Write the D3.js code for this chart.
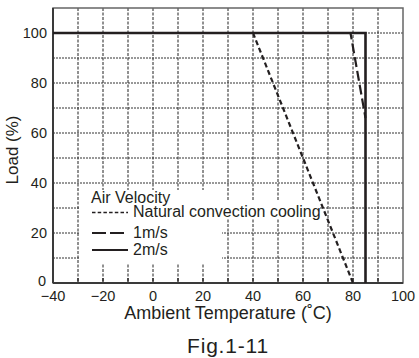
<!DOCTYPE html>
<html><head><meta charset="utf-8">
<script src="https://cdn.jsdelivr.net/npm/d3@7"></script>
<style>body{margin:0;background:#fff}svg{display:block}text{font-family:"Liberation Sans",Arial,sans-serif;fill:#231f20}</style>
</head><body><svg id="c" width="419" height="358"></svg>
<script>
const xTicks = [-40,-20,0,20,40,60,80,100];
const yTicks = [0,20,40,60,80,100];
const xGrid = [-30,-20,-10,0,10,20,30,40,50,60,70,80,90];
const yGrid = [10,20,30,40,50,60,70,80,90,100];
const naturalX = [-40,40,80];
const naturalY = [100,100,0];
const ms1X = [-40,79,85];
const ms1Y = [100,100,66];
const ms2X = [-40,85,85];
const ms2Y = [100,100,0];
const legendLabels = ["Natural convection cooling","1m/s","2m/s"];

const svg = d3.select("#c");
const x = d3.scaleLinear().domain([-40,100]).range([53,403]);
const y = d3.scaleLinear().domain([0,110]).range([283,8]);
const ink = "#231f20";

// grid
svg.append("g").selectAll("line").data(xGrid).join("line")
  .attr("x1",d=>x(d)).attr("x2",d=>x(d)).attr("y1",y(110)).attr("y2",y(0))
  .attr("stroke","#222").attr("stroke-width",1).attr("stroke-dasharray","3,1.5");
svg.append("g").selectAll("line").data(yGrid).join("line")
  .attr("y1",d=>y(d)).attr("y2",d=>y(d)).attr("x1",x(-40)).attr("x2",x(100))
  .attr("stroke","#333").attr("stroke-width",1).attr("stroke-dasharray","2,1");

// bottom inner ticks
svg.append("g").selectAll("line").data(xGrid).join("line")
  .attr("x1",d=>x(d)).attr("x2",d=>x(d)).attr("y1",y(0)).attr("y2",y(0)-5)
  .attr("stroke",ink).attr("stroke-width",1.3);

// legend white areas
svg.append("rect").attr("x",79).attr("y",190).attr("width",143).attr("height",73).attr("fill","#fff");
svg.append("rect").attr("x",222).attr("y",201).attr("width",98).attr("height",17).attr("fill","#fff");

// frame
svg.append("rect").attr("x",x(-40)).attr("y",y(110)).attr("width",x(100)-x(-40)).attr("height",y(0)-y(110))
  .attr("fill","none").attr("stroke","#666").attr("stroke-width",1.5);
svg.append("line").attr("x1",x(-40)).attr("x2",x(-40)).attr("y1",y(110)).attr("y2",y(0)).attr("stroke","#3a3a3a").attr("stroke-width",2);
svg.append("line").attr("x1",x(-40)).attr("x2",x(100)).attr("y1",y(0)).attr("y2",y(0)).attr("stroke","#3a3a3a").attr("stroke-width",2);

// data
const line = d3.line().x(d=>x(d[0])).y(d=>y(d[1]));
svg.append("path").attr("d",line(naturalX.map((v,i)=>[v,naturalY[i]])))
  .attr("fill","none").attr("stroke",ink).attr("stroke-width",2.2).attr("stroke-dasharray","5,3");
svg.append("path").attr("d",line(ms1X.map((v,i)=>[v,ms1Y[i]])))
  .attr("fill","none").attr("stroke",ink).attr("stroke-width",2.2).attr("stroke-dasharray","10,4");
svg.append("path").attr("d",line(ms2X.map((v,i)=>[v,ms2Y[i]])))
  .attr("fill","none").attr("stroke",ink).attr("stroke-width",2.6);

// tick labels
svg.append("g").selectAll("text").data(xTicks).join("text")
  .attr("x",d=>x(d)).attr("y",301).attr("text-anchor","middle").attr("font-size",14.5)
  .text(d=>d<0?"\u2212"+Math.abs(d):d);
svg.append("g").selectAll("text").data(yTicks).join("text")
  .attr("x",d=>d===0?46:47).attr("y",d=>y(d)+(d===0?3:5)).attr("text-anchor","end").attr("font-size",14.5)
  .text(d=>d);

// titles
svg.append("text").attr("x",228).attr("y",319).attr("text-anchor","middle").attr("font-size",18)
  .text("Ambient Temperature (\u02DAC)");
svg.append("text").attr("transform","translate(18,150) rotate(-90)").attr("text-anchor","middle").attr("font-size",17)
  .text("Load (%)");
svg.append("text").attr("x",228).attr("y",353).attr("text-anchor","middle").attr("font-size",21)
  .attr("letter-spacing",0.8).text("Fig.1-11");

// legend
svg.append("text").attr("x",91).attr("y",203).attr("font-size",16).text("Air Velocity");
const lg = [{y:212.5,dash:"3.5,2.2",w:1.6},{y:233,dash:"14,4",w:2},{y:250,dash:null,w:2}];
lg.forEach((r,i)=>{
  const l = svg.append("line").attr("x1",92).attr("x2",128).attr("y1",r.y).attr("y2",r.y)
    .attr("stroke",ink).attr("stroke-width",r.w);
  if(r.dash) l.attr("stroke-dasharray",r.dash);
  svg.append("text").attr("x",133).attr("y",r.y+4.5).attr("font-size",16).text(legendLabels[i]);
});
</script></body></html>
